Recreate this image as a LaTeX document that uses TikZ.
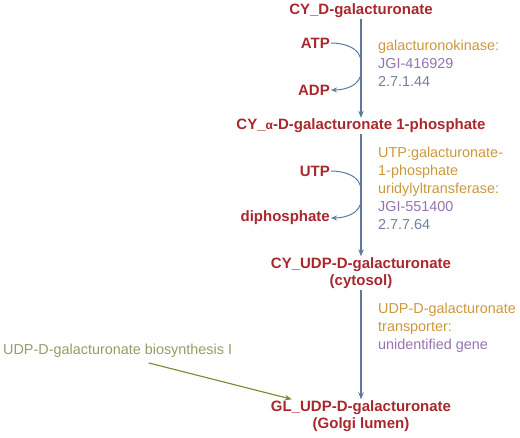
\documentclass[tikz,border=0pt]{standalone}
\usepackage{fontspec}
\setmainfont{Liberation Sans}
\usetikzlibrary{arrows.meta,positioning,calc}
\definecolor{metred}{RGB}{168,40,45}
\definecolor{enzorange}{RGB}{205,152,60}
\definecolor{genepurple}{RGB}{150,115,175}
\definecolor{ecgrey}{RGB}{115,128,155}
\definecolor{rxnblue}{RGB}{92,122,158}
\definecolor{pwgreen}{RGB}{112,140,45}

\tikzset{
  met/.style={font=\fontsize{15}{17}\selectfont\bfseries, text=metred, align=center, inner sep=1pt},
  side/.style={font=\fontsize{15}{17}\selectfont\bfseries, text=metred, inner sep=1pt},
  enz/.style={font=\fontsize{14.4}{18}\selectfont, align=left, anchor=north west, inner sep=0pt},
  rxn/.style={draw=rxnblue, line width=1.1pt, -{Stealth[length=7pt,width=5.5pt]}},
  cofac/.style={draw=rxnblue, line width=1pt},
}

\begin{document}
\begin{tikzpicture}[x=1pt,y=-1pt]
\useasboundingbox (0,0) rectangle (520,437);

% metabolites on the main axis
\node[met] (galA)  at (361,11)  {CY\_D-galacturonate};
\node[met] (galAP) at (361,126) {CY\_{\fontsize{12}{12}\selectfont α}-D-galacturonate 1-phosphate};
\node[met] (udpcy) at (361,273) {CY\_UDP-D-galacturonate\\(cytosol)};
\node[met] (udpgl) at (361,416) {GL\_UDP-D-galacturonate\\(Golgi lumen)};

% side metabolites
\node[side, anchor=east] (atp) at (331,43)  {ATP};
\node[side, anchor=east] (adp) at (331,90)  {ADP};
\node[side, anchor=east] (utp) at (331,171) {UTP};
\node[side, anchor=east] (ppi) at (331,218) {diphosphate};

% enzyme labels
\node[enz] (enz1) at (378,40) {\textcolor{enzorange}{galacturonokinase:}\\
  \textcolor{genepurple}{JGI-416929}\\\textcolor{ecgrey}{2.7.1.44}};
\node[enz] (enz2) at (378,147) {\textcolor{enzorange}{UTP:galacturonate-}\\
  \textcolor{enzorange}{1-phosphate}\\\textcolor{enzorange}{uridylyltransferase:}\\
  \textcolor{genepurple}{JGI-551400}\\\textcolor{ecgrey}{2.7.7.64}};
\node[enz] (enz3) at (378,303) {\textcolor{enzorange}{UDP-D-galacturonate}\\
  \textcolor{enzorange}{transporter:}\\\textcolor{genepurple}{unidentified gene}};

% pathway link
\node[font=\fontsize{14.4}{17}\selectfont, text=pwgreen!85!black!70, anchor=west, inner sep=0pt] (pw) at (3,351)
  {UDP-D-galacturonate biosynthesis I};

% reactions
\draw[rxn] (galA.south) -- (galAP.north);
\draw[rxn] (galAP.south) -- (udpcy.north);
\draw[rxn] (udpcy.south) -- (udpgl.north);

% cofactor curves
\coordinate (k1a) at (361,62);
\coordinate (k1b) at (361,72);
\coordinate (k2a) at (361,190);
\coordinate (k2b) at (361,200);
\draw[cofac] (atp.east) to[out=0,in=90] (k1a) -- (k1b);
\draw[cofac, -{Stealth[length=6pt,width=5pt]}] (k1b) to[out=-90,in=0] (adp.east);
\draw[cofac] (utp.east) to[out=0,in=90] (k2a) -- (k2b);
\draw[cofac, -{Stealth[length=6pt,width=5pt]}] (k2b) to[out=-90,in=0] (ppi.east);

% link to pathway
\coordinate (pwfoot) at ($(pw.south)+(31,5)$);
\coordinate (pwtip) at ($(udpgl.north west)+(22,0)$);
\draw[draw=pwgreen, line width=1.1pt, -{Stealth[length=7pt,width=5.5pt]}] (pwfoot) -- (pwtip);

\end{tikzpicture}
\end{document}
